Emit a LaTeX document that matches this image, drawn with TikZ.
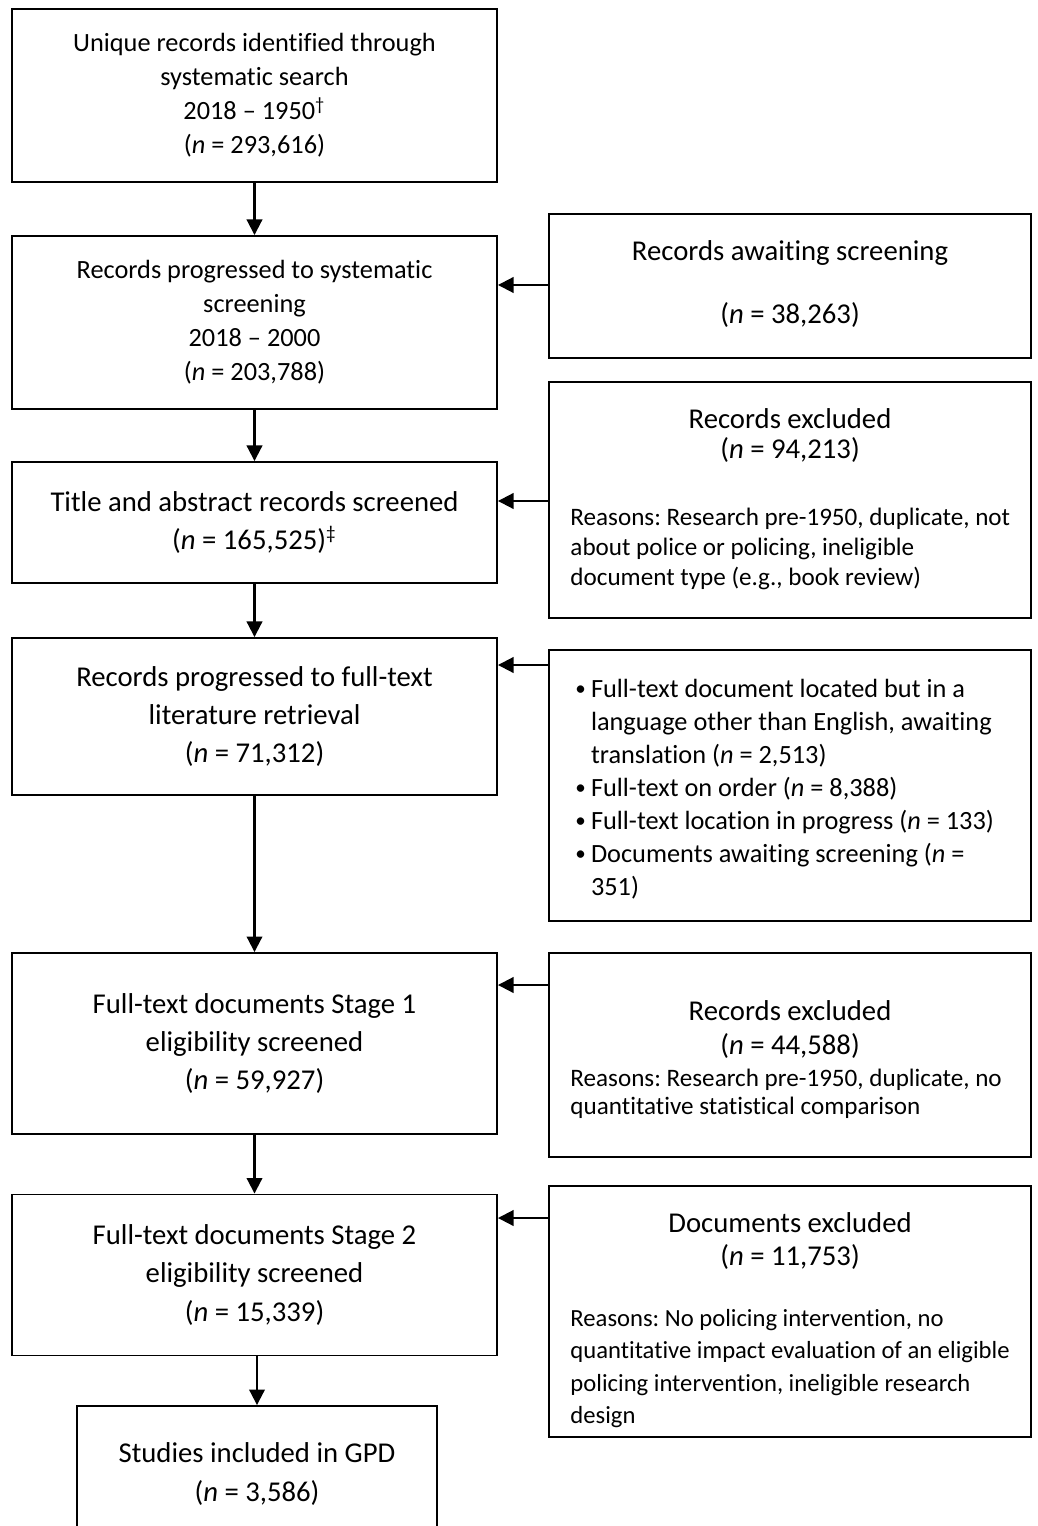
\documentclass[tikz,border=0pt]{standalone}
\usepackage{fontspec}
\setmainfont{Carlito}[Ligatures={NoCommon}]
\usetikzlibrary{arrows.meta}
\frenchspacing

\def\px{0.418pt}
\newcommand{\nn}{\textit{n}}
\newcommand{\bul}{\makebox[6.5pt][l]{\raisebox{0.15ex}{\scalebox{0.8}{\textbullet}}}}
\newcommand{\fsA}{\fontsize{11}{14.2}\selectfont}
\newcommand{\fsB}{\fontsize{12}{15.9}\selectfont}
\newcommand{\fsC}{\fontsize{10.5}{12.5}\selectfont}

\begin{document}
\begin{tikzpicture}[x=0.418pt, y=-0.418pt,
  box/.style={draw, line width=0.8pt, inner sep=0pt, align=center, font=\fsB},
  lbox/.style={box, minimum width=485*\px},
  rbox/.style={draw, line width=0.8pt, minimum width=482*\px},
  arr/.style={line width=0.85pt, -{Triangle[length=6.5pt,width=6.5pt]}}]
\useasboundingbox (0,0) rectangle (1037,1526);

% main column
\node[lbox, minimum height=173*\px, font=\fsA] (s1) at (254.5,95.5) {Unique records identified through\\systematic search\\2018 -- 1950\textsuperscript{†}\\(\nn{} = 293,616)};
\node[lbox, minimum height=173*\px, font=\fsA] (s2) at (254.5,322.5) {Records progressed to systematic\\screening\\2018 -- 2000\\(\nn{} = 203,788)};
\node[lbox, minimum height=121*\px] (s3) at (254.5,522.5) {Title and abstract records screened\\(\nn{} = 165,525)\textsuperscript{‡}};
\node[lbox, minimum height=157*\px] (s4) at (254.5,716.5) {Records progressed to full-text\\literature retrieval\\(\nn{} = 71,312)};
\node[lbox, minimum height=181*\px] (s5) at (254.5,1043.5) {Full-text documents Stage 1\\eligibility screened\\(\nn{} = 59,927)};
\node[lbox, minimum height=161*\px] (s6) at (254.5,1275) {Full-text documents Stage 2\\eligibility screened\\(\nn{} = 15,339)};
\node[box, minimum width=360*\px, minimum height=136*\px] (s7) at (257,1474) {Studies included in GPD\\(\nn{} = 3,586)};

% side boxes
\node[rbox, minimum height=144*\px] (r1) at (790,286) {};
\node[align=center, inner sep=0pt, font=\fontsize{12}{26}\selectfont] (r1t) at (790,284) {Records awaiting screening\\(\nn{} = 38,263)};

\node[rbox, minimum height=236*\px] (r2) at (790,500) {};
\node[align=center, inner sep=0pt, font=\fontsize{12}{12.2}\selectfont] (r2h) at (790,435.5) {Records excluded\\(\nn{} = 94,213)};
\node[align=left, anchor=west, inner sep=0pt, font=\fsC] (r2t) at (570,549) {Reasons: Research pre-1950, duplicate, not\\about police or policing, ineligible\\document type (e.g., book review)};

\node[rbox, minimum height=271*\px] (r3) at (790,785.5) {};
\node[align=left, anchor=west, inner sep=0pt, font=\fontsize{11}{13.8}\selectfont] (r3t) at (575,789) {%
\bul Full-text document located but in a\\
\hspace*{6.5pt}language other than English, awaiting\\
\hspace*{6.5pt}translation (\nn{} = 2,513)\\
\bul Full-text on order (\nn{} = 8,388)\\
\bul Full-text location in progress (\nn{} = 133)\\
\bul Documents awaiting screening (\nn{} =\\
\hspace*{6.5pt}351)};

\node[rbox, minimum height=204*\px] (r4) at (790,1055) {};
\node[align=center, inner sep=0pt, font=\fontsize{12}{14.6}\selectfont] (r4h) at (790,1029.5) {Records excluded\\(\nn{} = 44,588)};
\node[align=left, anchor=west, inner sep=0pt, font=\fontsize{10.5}{11.7}\selectfont] (r4t) at (570,1094) {Reasons: Research pre-1950, duplicate, no\\quantitative statistical comparison};

\node[rbox, minimum height=251*\px] (r5) at (790,1311.5) {};
\node[align=center, inner sep=0pt, font=\fontsize{12}{13.8}\selectfont] (r5h) at (790,1241.5) {Documents excluded\\(\nn{} = 11,753)};
\node[align=left, anchor=west, inner sep=0pt, font=\fontsize{10.3}{13.5}\selectfont] (r5t) at (570,1368.5) {Reasons: No policing intervention, no\\quantitative impact evaluation of an eligible\\policing intervention, ineligible research\\design};

% arrows
\foreach \a/\b in {s1/s2, s2/s3, s3/s4, s4/s5, s5/s6} \draw[arr] (\a) -- (\b);
\draw[arr] (s6.south -| s7) -- (s7);
\foreach \a/\b/\y in {r1/s2/285, r2/s3/501, r3/s4/665, r4/s5/985, r5/s6/1218} \draw[arr] (\a.west |- 0,\y) -- (\b.east |- 0,\y);
\end{tikzpicture}
\end{document}
